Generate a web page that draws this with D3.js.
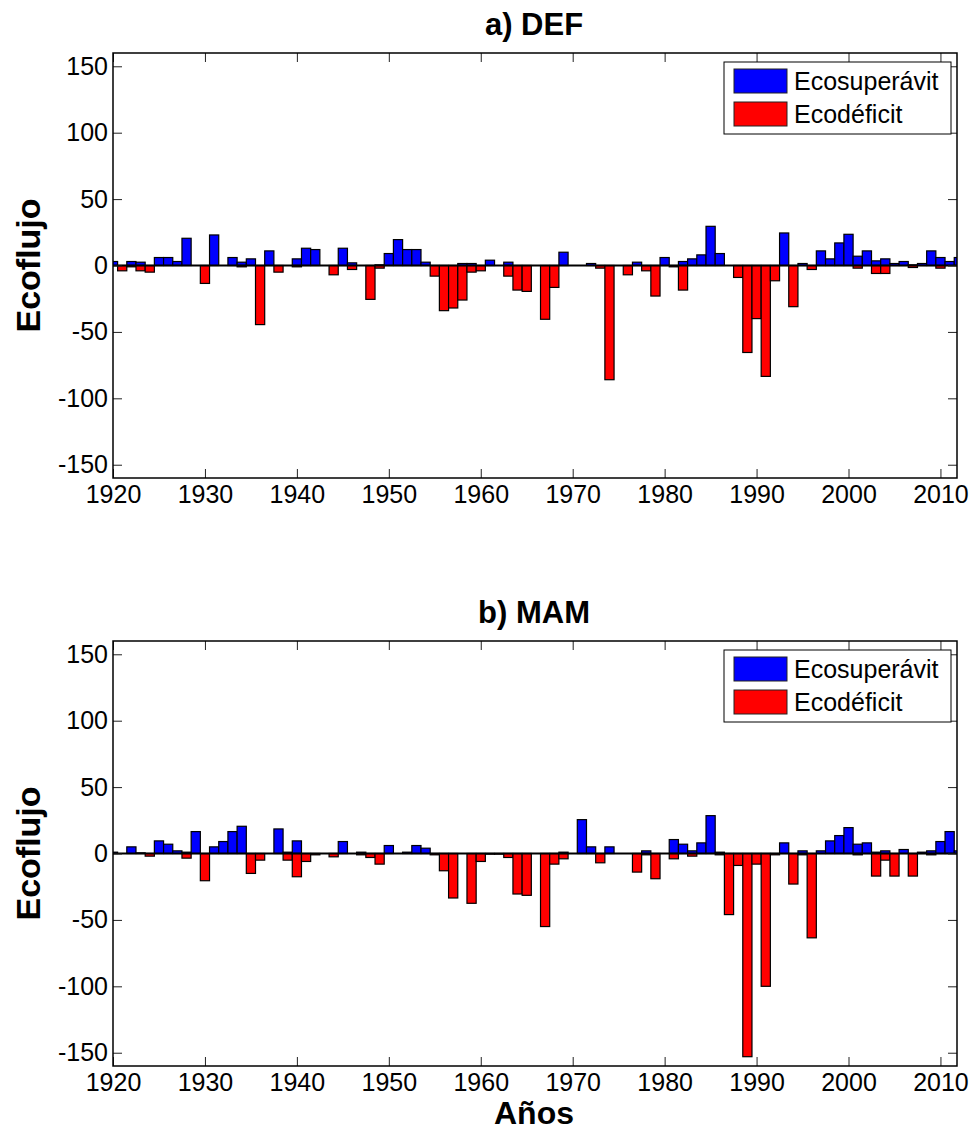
<!DOCTYPE html>
<html lang="es">
<head>
    <meta charset="UTF-8">
    <title>Ecoflujo DEF / MAM</title>
    <script src="https://d3js.org/d3.v7.min.js"></script>
    <style>
        body { margin: 0; background: #fff; }
        svg { font-family: "Liberation Sans", Arial, sans-serif; }
    </style>
</head>
<body>
<div id="chart"></div>
<script>

// years 1920..2012
var years = d3.range(1920, 2013);

// a) DEF
var defSuperavit = [3, 0, 3, 2.5, 0, 6, 6, 3, 20.5, 0,
    0, 23, 0, 6, 2.5, 5, 0, 11, 0, 0,
    5, 13, 12, 0, 0, 13, 2, 0, 0, 0.5,
    9, 19.5, 12, 12, 2.5, 0, 0, 0, 1.5, 1.5,
    0, 4, 0, 2.5, 0, 0, 0, 0, 0, 10,
    0, 0, 1.5, 0, 0, 0, 0, 2.5, 0, 0,
    6, 0, 3, 5, 8, 29.5, 9, 0, 0, 0,
    0, 0, 0, 24.5, 0, 1.5, 0, 11, 5, 17,
    23.5, 7, 11, 3.5, 5, 1.5, 3, 0.5, 1.5, 11,
    6, 3, 6];
var defDeficit = [0, -4, -1, -4, -5, 0, 0, 0, 0, 0,
    -13.5, 0, 0, 0, -1, 0, -44.5, 0, -5, 0,
    -1, 0, 0, 0, -7, 0, -3, 0, -25.5, -2,
    0, 0, 0, 0, 0, -8, -34, -32, -26, -5,
    -4, 0, 0, -8, -18.5, -19.5, 0, -40.5, -16.5, 0,
    0, 0, 0, -2, -86, 0, -7, 0, -4, -23,
    0, -1, -18.5, 0, 0, 0, 0, 0, -9, -65.5,
    -40, -83.5, -11.5, 0, -31, 0, -3, 0, 0, 0,
    0, -2, 0, -6, -6, 0, 0, -1.5, 0, 0,
    -2, 0, 0];

// b) MAM
var mamSuperavit = [1, 0, 5, 0.5, 0, 9.5, 7, 2, 1, 16.5,
    0, 5, 9, 16.5, 20.5, 0, 0, 0, 18.5, 1,
    9.5, 0, 0, 0, 0, 9, 0, 1, 0, 0,
    6, 0, 1, 6, 4, 0, 0, 0, 0, 0,
    0, 0, 0, 0, 0, 0, 0, 0, 0, 1,
    0, 25.5, 5, 0, 5, 0, 0, 0, 2, 0,
    0, 10.5, 7, 2, 8, 28.5, 1, 0, 0, 0,
    0, 0, 0, 8, 0, 2, 0, 2, 9.5, 13.5,
    19.5, 7, 8, 1, 2, 0, 3, 0, 1, 2,
    9, 16.5, 2];
var mamDeficit = [0, 0, 0, 0, -2, 0, 0, 0, -3.5, 0,
    -20.5, 0, 0, 0, 0, -15, -5, 0, 0, -5,
    -17.5, -6, -1, 0, -2.5, 0, 0, -1, -3, -8,
    0, 0, 0, 0, 0, -1, -13, -33.5, 0, -37.5,
    -6, -0.5, -0.5, -3, -30.5, -31.5, 0, -55, -8, -4,
    0, 0, 0, -7, 0, 0, 0, -14, -1, -19,
    0, -4, 0, -2, 0, 0, -1, -46, -9, -153,
    -8, -100, -1, 0, -23, -1, -63.5, 0, 0, 0,
    0, -1, 0, -17, -5, -17, 0, -17, 0, -1,
    0, 0, 0];

var xTicks = [1920, 1930, 1940, 1950, 1960, 1970, 1980, 1990, 2000, 2010];
var yTicks = [-150, -100, -50, 0, 50, 100, 150];
var legendLabels = ['Ecosuperávit', 'Ecodéficit'];
var colors = ['#0000ff', '#ff0000'];

var W = 973, H = 1131;
var svg = d3.select('#chart').append('svg')
    .attr('width', W)
    .attr('height', H);

var left = 113, right = 957, plotH = 425;

var x = d3.scaleLinear().domain([1920, 2011.8]).range([left, right]);

function panel(id, top, title, sup, def) {
    var y = d3.scaleLinear().domain([-160, 160]).range([top + plotH, top]);
    var g = svg.append('g');

    g.append('clipPath').attr('id', 'clip' + id)
        .append('rect')
        .attr('x', left).attr('y', top)
        .attr('width', right - left).attr('height', plotH);

    var bars = g.append('g').attr('clip-path', 'url(#clip' + id + ')');
    var bw = x(1921) - x(1920);

    [sup, def].forEach(function(series, k) {
        bars.selectAll('rect.s' + k)
            .data(years.map(function(yr, i) { return {year: yr, v: series[i]}; })
                .filter(function(d) { return d.v !== 0; }))
            .enter()
            .append('rect')
            .attr('class', 's' + k)
            .attr('x', function(d) { return x(d.year) - bw / 2; })
            .attr('width', bw)
            .attr('y', function(d) { return y(Math.max(0, d.v)); })
            .attr('height', function(d) { return Math.abs(y(d.v) - y(0)); })
            .attr('fill', colors[k])
            .attr('stroke', '#000')
            .attr('stroke-width', 1.2);
    });

    // zero line
    bars.append('line')
        .attr('x1', left).attr('x2', right)
        .attr('y1', y(0)).attr('y2', y(0))
        .attr('stroke', '#000').attr('stroke-width', 1.8);

    // axes with inward ticks on all sides (plain hyphen minus like the original)
    var plain = function(d) { return String(d); };
    var axB = g.append('g').attr('transform', 'translate(0,' + (top + plotH) + ')')
        .call(d3.axisBottom(x).tickValues(xTicks).tickFormat(plain).tickSize(-9).tickPadding(7));
    var axT = g.append('g').attr('transform', 'translate(0,' + top + ')')
        .call(d3.axisTop(x).tickValues(xTicks).tickFormat('').tickSize(-9));
    var axL = g.append('g').attr('transform', 'translate(' + left + ',0)')
        .call(d3.axisLeft(y).tickValues(yTicks).tickFormat(plain).tickSize(-9).tickPadding(5));
    var axR = g.append('g').attr('transform', 'translate(' + right + ',0)')
        .call(d3.axisRight(y).tickValues(yTicks).tickFormat('').tickSize(-9));

    [axB, axT, axL, axR].forEach(function(a) {
        a.select('.domain').remove();
        a.selectAll('line').attr('stroke', '#222');
        a.selectAll('text').attr('font-size', 25).attr('fill', '#000')
            .attr('font-family', '"Liberation Sans", Arial, sans-serif');
    });

    g.append('rect')
        .attr('x', left).attr('y', top)
        .attr('width', right - left).attr('height', plotH)
        .attr('fill', 'none').attr('stroke', '#000').attr('stroke-width', 1.5);

    // title
    g.append('text')
        .attr('x', (left + right) / 2 - 1).attr('y', top - 18)
        .attr('text-anchor', 'middle')
        .attr('font-size', 31).attr('font-weight', 'bold')
        .text(title);

    // y label
    g.append('text')
        .attr('transform', 'translate(40,' + (top + plotH / 2) + ') rotate(-90)')
        .attr('text-anchor', 'middle')
        .attr('font-size', 34).attr('font-weight', 'bold')
        .text('Ecoflujo');

    // legend
    var lg = g.append('g').attr('transform', 'translate(724,' + (top + 9) + ')');
    lg.append('rect')
        .attr('width', 227).attr('height', 72)
        .attr('fill', '#fff').attr('stroke', '#000').attr('stroke-width', 1);
    legendLabels.forEach(function(lbl, i) {
        lg.append('rect')
            .attr('x', 10).attr('y', 7 + i * 33)
            .attr('width', 53).attr('height', 24)
            .attr('fill', colors[i]).attr('stroke', '#222').attr('stroke-width', 1);
        lg.append('text')
            .attr('x', 70).attr('y', 19 + i * 33)
            .attr('dy', '0.35em')
            .attr('font-size', 25)
            .text(lbl);
    });
}

panel('a', 53, 'a) DEF', defSuperavit, defDeficit);
panel('b', 641, 'b) MAM', mamSuperavit, mamDeficit);

svg.append('text')
    .attr('x', (left + right) / 2 - 1).attr('y', 1124)
    .attr('text-anchor', 'middle')
    .attr('font-size', 32).attr('font-weight', 'bold')
    .text('Años');

</script>
</body>
</html>
